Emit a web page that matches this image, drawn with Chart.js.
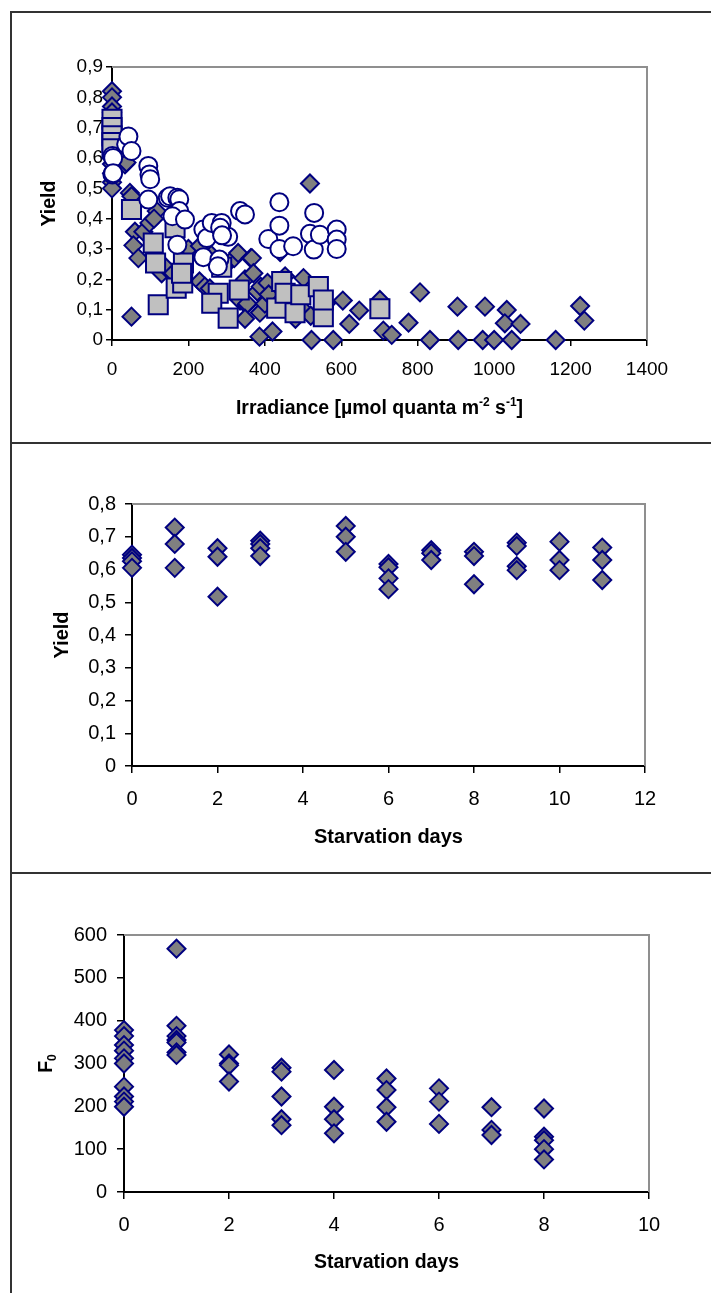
<!DOCTYPE html>
<html><head><meta charset="utf-8">
<script src="https://cdn.jsdelivr.net/npm/chart.js@4.4.1/dist/chart.umd.min.js"></script>
<style>
html,body{margin:0;padding:0;background:#fff;}
body{width:711px;height:1293px;position:relative;overflow:hidden;}
.ln{position:absolute;background:#333;}
.cv{position:absolute;left:12px;width:699px;}
canvas{display:block;}
</style></head><body>
<div class="ln" style="left:10px;top:11px;width:701px;height:2px"></div>
<div class="ln" style="left:10px;top:11px;width:2px;height:1282px"></div>
<div class="ln" style="left:10px;top:442px;width:701px;height:2px"></div>
<div class="ln" style="left:10px;top:872px;width:701px;height:2px"></div>
<div class="cv" style="top:13px;height:429px"><canvas id="c1" width="699" height="429"></canvas></div>
<div class="cv" style="top:444px;height:428px"><canvas id="c2" width="699" height="428"></canvas></div>
<div class="cv" style="top:874px;height:419px"><canvas id="c3" width="699" height="419"></canvas></div>
<script>
// ---------- Panel A: Yield vs irradiance ----------
const irrDiamondX = [0,0,0,0,0,0,0,0,0,0,0,0,34,38,47,51,51,60,56,69,82,98,117,130,110,140,160,200,229,243,256,230,260,300,320,330,335,348,352,354,348,363,366,370,380,386,387,389,400,407,410,420,440,453,460,480,501,500,518,520,522,560,579,604,621,647,701,710,732,776,806,832,904,906,970,976,1000,1033,1028,1046,1069,1161,1225,1236];
const irrDiamondY = [0.82,0.80,0.77,0.75,0.72,0.68,0.65,0.62,0.58,0.55,0.52,0.50,0.579,0.585,0.485,0.474,0.077,0.357,0.312,0.27,0.357,0.386,0.425,0.22,0.40,0.24,0.22,0.30,0.193,0.176,0.17,0.31,0.28,0.25,0.27,0.287,0.13,0.20,0.115,0.12,0.07,0.27,0.27,0.22,0.16,0.011,0.09,0.176,0.12,0.188,0.15,0.028,0.29,0.21,0.10,0.07,0.204,0.10,0.516,0.08,0,0.12,0,0.13,0.053,0.097,0.132,0.031,0.017,0.057,0.157,0,0.11,0,0,0.11,0,0.099,0.055,0,0.053,0,0.112,0.064];
const irrSquareX = [0,0,0,0,0,51,108,114,121,165,168,187,185,182,278,261,287,304,333,431,444,453,479,494,540,553,553,701];
const irrSquareY = [0.728,0.70,0.673,0.651,0.63,0.43,0.32,0.254,0.116,0.37,0.171,0.254,0.188,0.22,0.154,0.121,0.24,0.072,0.165,0.105,0.193,0.154,0.09,0.149,0.176,0.077,0.132,0.103];
const irrCircleX = [1,1,3,3,37,43,51,95,98,100,95,146,152,171,176,174,176,158,191,171,239,248,239,261,287,304,281,277,283,288,335,348,409,438,438,438,474,518,529,528,544,588,588,588];
const irrCircleY = [0.607,0.546,0.60,0.55,0.645,0.671,0.623,0.574,0.546,0.53,0.463,0.469,0.474,0.469,0.464,0.419,0.425,0.408,0.397,0.314,0.364,0.336,0.273,0.386,0.386,0.34,0.265,0.243,0.37,0.345,0.425,0.414,0.333,0.454,0.377,0.30,0.309,0.35,0.419,0.298,0.347,0.364,0.331,0.30];
const irrXTicks = [0,200,400,600,800,1000,1200,1400];
const yieldATicks = [0,0.1,0.2,0.3,0.4,0.5,0.6,0.7,0.8,0.9];

// ---------- Panel B: Yield vs starvation days ----------
const starveDaysB = [0,0,0,0,1,1,1,2,2,2,3,3,3,3,5,5,5,6,6,6,6,7,7,7,8,8,8,9,9,9,9,10,10,10,11,11,11];
const starveYieldB = [0.645,0.635,0.625,0.605,0.728,0.678,0.605,0.665,0.639,0.517,0.688,0.678,0.665,0.641,0.733,0.700,0.654,0.617,0.607,0.573,0.540,0.659,0.650,0.629,0.654,0.641,0.555,0.682,0.672,0.610,0.598,0.685,0.629,0.598,0.667,0.629,0.568];
const daysBTicks = [0,2,4,6,8,10,12];
const yieldBTicks = [0,0.1,0.2,0.3,0.4,0.5,0.6,0.7,0.8];

// ---------- Panel C: F0 vs starvation days ----------
const starveDaysC = [0,0,0,0,0,0,0,0,0,0,1,1,1,1,1,1,1,2,2,2,2,3,3,3,3,3,4,4,4,4,5,5,5,5,6,6,6,7,7,7,8,8,8,8,8];
const f0ValuesC = [378,364,343,330,312,300,246,223,211,199,568,388,364,355,349,326,320,321,300,296,258,290,281,223,170,156,285,199,170,137,265,238,198,164,242,211,159,198,145,133,195,129,121,100,76];
const daysCTicks = [0,2,4,6,8,10];
const f0Ticks = [0,100,200,300,400,500,600];

const FONT = '"Liberation Sans", Arial, sans-serif';
const NAVY = '#000080';
const commaFmt = v => v === 0 ? '0' : v.toFixed(1).replace('.', ',');
const pts = (xs, ys) => xs.map((x, i) => ({x, y: ys[i]}));

function drawRich(ctx, parts, cx, cy, size) {
  let w = 0;
  const seg = parts.map(p => {
    const fs = p.sup || p.sub ? Math.round(size * 0.62) : size;
    ctx.font = 'bold ' + fs + 'px ' + FONT;
    const sw = ctx.measureText(p.t).width;
    w += sw;
    return {p, fs, sw};
  });
  let x = cx - w / 2;
  ctx.textAlign = 'left';
  ctx.textBaseline = 'alphabetic';
  const base = cy + size * 0.36;
  seg.forEach(s => {
    ctx.font = 'bold ' + s.fs + 'px ' + FONT;
    let y = base;
    if (s.p.sup) y = base - size * 0.42;
    if (s.p.sub) y = base + size * 0.22;
    ctx.fillText(s.p.t, x, y);
    x += s.sw;
  });
}

const framePlugin = {
  id: 'frame',
  beforeDatasetsDraw(chart) {
    const {ctx, chartArea: a} = chart;
    ctx.save();
    ctx.strokeStyle = '#8f8f8f';
    ctx.lineWidth = 2;
    ctx.beginPath();
    ctx.moveTo(a.left, a.top);
    ctx.lineTo(a.right, a.top);
    ctx.lineTo(a.right, a.bottom);
    ctx.stroke();
    ctx.restore();
  },
  afterDraw(chart, args, o) {
    const {ctx, chartArea: a} = chart;
    ctx.save();
    ctx.fillStyle = '#000';
    drawRich(ctx, o.xTitle, (a.left + a.right) / 2, a.bottom + o.xOff, o.size);
    ctx.translate(a.left - o.yOff, (a.top + a.bottom) / 2);
    ctx.rotate(-Math.PI / 2);
    drawRich(ctx, o.yTitle, 0, 0, o.size);
    ctx.restore();
  }
};

function makeChart(id, datasets, g) {
  const axisCommon = (ticks, fmt, min, max, tl, pad, size) => ({
    type: 'linear', min, max,
    afterBuildTicks: s => { s.ticks = ticks.map(v => ({value: v})); },
    ticks: {callback: fmt, color: '#000', font: {family: FONT, size}, padding: pad, autoSkip: false, maxRotation: 0},
    grid: {drawOnChartArea: false, drawTicks: true, tickLength: tl, color: '#000', lineWidth: 1.5},
    border: {display: true, color: '#000', width: 2}
  });
  const x = axisCommon(g.xTicks, v => String(v), g.xMin, g.xMax, g.tl, g.xPad, g.tick);
  x.afterFit = s => { s.height = g.xH; };
  const y = axisCommon(g.yTicks, g.yFmt, g.yMin, g.yMax, g.tl, g.yPad, g.tick);
  y.afterFit = s => { s.width = g.yW; };
  return new Chart(document.getElementById(id), {
    type: 'scatter',
    data: {datasets},
    options: {
      responsive: false, animation: false, devicePixelRatio: 1,
      layout: {padding: {top: g.top, right: g.right, left: 0, bottom: 0}},
      scales: {x, y},
      plugins: {legend: {display: false}, tooltip: {enabled: false},
        frame: {xTitle: g.xTitle, yTitle: g.yTitle, xOff: g.xOff, yOff: g.yOff, size: g.title}}
    },
    plugins: [framePlugin]
  });
}

const diamond = (data, r) => ({data, pointStyle: 'rectRot', pointRadius: r, pointBorderWidth: 2,
  pointBackgroundColor: '#808080', pointBorderColor: NAVY, clip: false});

makeChart('c1', [
  {data: pts(irrCircleX, irrCircleY), pointStyle: 'circle', pointRadius: 9, pointBorderWidth: 2,
    pointBackgroundColor: '#ffffff', pointBorderColor: NAVY, clip: false},
  {data: pts(irrSquareX, irrSquareY), pointStyle: 'rect', pointRadius: 13.5, pointBorderWidth: 2,
    pointBackgroundColor: '#c0c0c0', pointBorderColor: NAVY, clip: false},
  diamond(pts(irrDiamondX, irrDiamondY), 9)
], {xTicks: irrXTicks, yTicks: yieldATicks, xMin: 0, xMax: 1400, yMin: 0, yMax: 0.9, yFmt: commaFmt,
  top: 54, right: 64, yW: 100, xH: 102, tl: 6, xPad: 12, yPad: 3, tick: 19, title: 19.5,
  xOff: 67, yOff: 64,
  xTitle: [{t: 'Irradiance [µmol quanta m'}, {t: '-2', sup: true}, {t: ' s'}, {t: '-1', sup: true}, {t: ']'}],
  yTitle: [{t: 'Yield'}]});

makeChart('c2', [diamond(pts(starveDaysB, starveYieldB), 9)],
  {xTicks: daysBTicks, yTicks: yieldBTicks, xMin: 0, xMax: 12, yMin: 0, yMax: 0.8, yFmt: commaFmt,
  top: 60, right: 66, yW: 120, xH: 106, tl: 7, xPad: 14, yPad: 9, tick: 20, title: 20,
  xOff: 70, yOff: 71,
  xTitle: [{t: 'Starvation days'}], yTitle: [{t: 'Yield'}]});

makeChart('c3', [diamond(pts(starveDaysC, f0ValuesC), 9)],
  {xTicks: daysCTicks, yTicks: f0Ticks, xMin: 0, xMax: 10, yMin: 0, yMax: 600, yFmt: v => String(v),
  top: 61, right: 62, yW: 112, xH: 101, tl: 7, xPad: 14, yPad: 10, tick: 20, title: 19.5,
  xOff: 69, yOff: 79,
  xTitle: [{t: 'Starvation days'}], yTitle: [{t: 'F'}, {t: '0', sub: true}]});
</script>
</body></html>
